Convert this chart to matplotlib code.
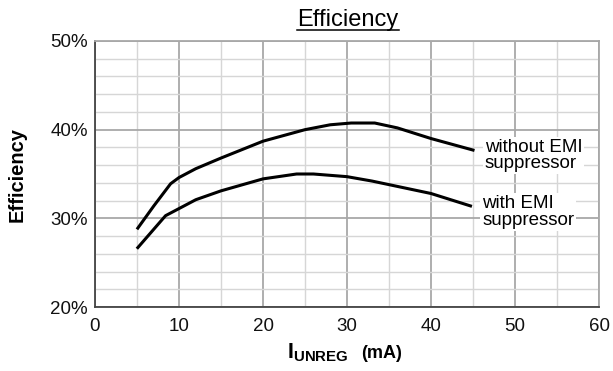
import matplotlib
matplotlib.use("Agg")
import matplotlib.pyplot as plt
from matplotlib.ticker import MultipleLocator, FuncFormatter

plt.rcParams['font.family'] = ['Liberation Sans', 'DejaVu Sans']
plt.rcParams['mathtext.fontset'] = 'custom'
plt.rcParams['mathtext.rm'] = 'Liberation Sans'
plt.rcParams['mathtext.bf'] = 'Liberation Sans:bold'

# Data (current in mA, efficiency in %)
without_x = [5.1, 7, 9, 10, 12, 15, 20, 25, 28, 30.5, 33.3, 36, 40, 45]
without_y = [28.9, 31.4, 33.9, 34.6, 35.6, 36.8, 38.7, 40.0, 40.55, 40.75, 40.75, 40.2, 39.0, 37.7]

with_x = [5.1, 8.4, 10, 12, 15, 20, 24, 26, 30, 33, 36, 40, 44.7]
with_y = [26.7, 30.3, 31.1, 32.1, 33.1, 34.45, 35.0, 35.0, 34.7, 34.2, 33.6, 32.8, 31.4]

label_without = "without EMI\nsuppressor"
label_with = "with EMI\nsuppressor"

W, H = 613, 371
fig = plt.figure(figsize=(W / 100, H / 100), dpi=100)
ax = fig.add_axes([95 / W, 1 - 307 / H, 504 / W, 266 / H])

ax.plot(without_x, without_y, color='black', lw=2.2, zorder=3)
ax.plot(with_x, with_y, color='black', lw=2.2, zorder=3)

ax.set_xlim(0, 60)
ax.set_ylim(20, 50)
ax.xaxis.set_major_locator(MultipleLocator(10))
ax.xaxis.set_minor_locator(MultipleLocator(5))
ax.yaxis.set_major_locator(MultipleLocator(10))
ax.yaxis.set_minor_locator(MultipleLocator(2))
ax.yaxis.set_major_formatter(FuncFormatter(lambda v, p: '{:d}%'.format(int(v))))

ax.grid(which='major', color='#a8a8a8', lw=1.3)
ax.grid(which='minor', color='#d6d6d6', lw=1.0)
ax.set_axisbelow(True)

ax.tick_params(which='both', length=0, labelsize=13.5, colors='#111111')
ax.tick_params(axis='x', pad=8)
ax.tick_params(axis='y', pad=5)

for side in ['top', 'right']:
    ax.spines[side].set_color('#a8a8a8')
    ax.spines[side].set_linewidth(1.3)
for side in ['left', 'bottom']:
    ax.spines[side].set_color('#444444')
    ax.spines[side].set_linewidth(1.3)

# title with underline
title = fig.text(348 / W, 1 - 26 / H, 'Efficiency', fontsize=17, ha='center', va='baseline')
fig.canvas.draw()
bb = title.get_window_extent()
fig.add_artist(plt.Line2D([bb.x0 / W, bb.x1 / W], [1 - 29.5 / H, 1 - 29.5 / H],
                          color='black', lw=1.1, transform=fig.transFigure))

ax.set_ylabel('Efficiency', fontsize=14.5, fontweight='bold')
ax.yaxis.set_label_coords((27 - 95) / 504, 0.5)

# x label: I_UNREG (mA)
fig.text(287 / W, 1 - 358 / H, r'$\mathbf{I_{UNREG}}$', fontsize=15.5, ha='left', va='baseline')
fig.text(361 / W, 1 - 358 / H, '(mA)', fontsize=13, fontweight='bold', ha='left', va='baseline')

box = dict(facecolor='white', edgecolor='none', pad=1.5)
ax.text(46.4, 37.1, label_without, fontsize=13.5, ha='left', va='center',
        linespacing=0.95, bbox=box, zorder=4)
ax.text(46.1, 30.7, label_with, fontsize=13.5, ha='left', va='center',
        linespacing=0.95, bbox=box, zorder=4)

fig.savefig('out.png', dpi=100)
